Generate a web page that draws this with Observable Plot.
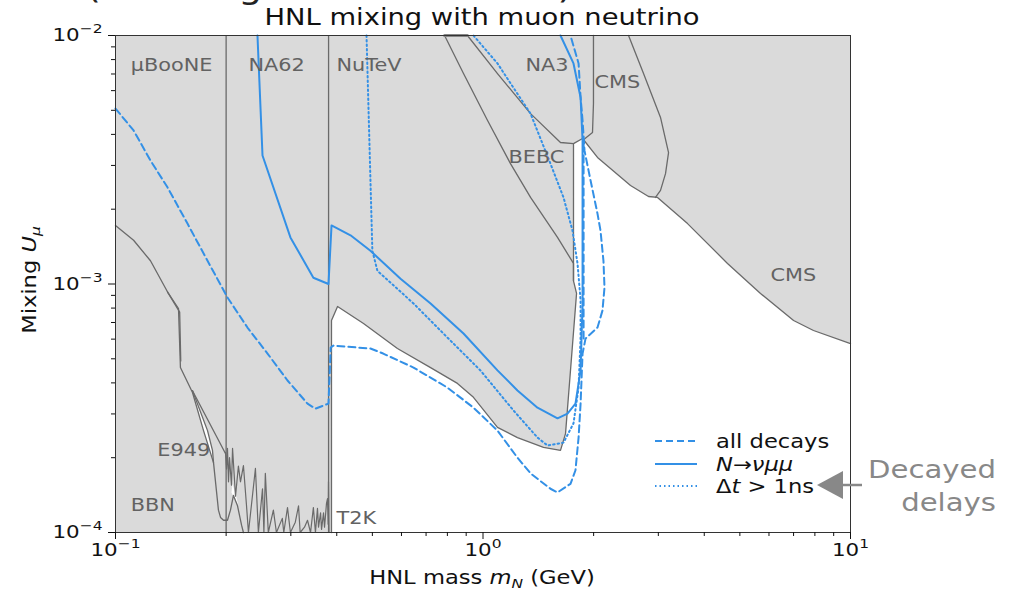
<!DOCTYPE html>
<html><head><meta charset="utf-8">
<script src="https://cdn.jsdelivr.net/npm/d3@7"></script>
<script src="https://cdn.jsdelivr.net/npm/@observablehq/plot@0.6"></script>
<style>
body{margin:0;background:#fff;}
#wrap{position:relative;width:1011px;height:594px;overflow:hidden;font-family:"DejaVu Sans",sans-serif;}
#chart{position:absolute;left:0;top:0;}
#overlay{position:absolute;left:0;top:0;pointer-events:none;font-family:"DejaVu Sans",sans-serif;}
</style></head><body>
<div id="wrap">
<div id="chart"></div>
<svg id="overlay" width="1011" height="594">
  <text x="86" y="-2" font-size="32" fill="#222">(Showing the HNL sector)</text>
  <text x="482" y="25" font-size="23" text-anchor="middle" fill="#111">HNL mixing with muon neutrino</text>
  <text transform="translate(36,280) rotate(-90)" text-anchor="middle" font-size="19" fill="#111">Mixing <tspan font-style="italic">U</tspan><tspan font-style="italic" font-size="13" dy="4">μ</tspan></text>
  <text x="482" y="584" text-anchor="middle" font-size="19" fill="#111">HNL mass <tspan font-style="italic">m</tspan><tspan font-style="italic" font-size="13" dy="4">N</tspan><tspan dy="-4"> (GeV)</tspan></text>
  <g id="legend">
    <line x1="655" x2="697" y1="441" y2="441" stroke="#3390e6" stroke-width="2" stroke-dasharray="7,4"/>
    <line x1="655" x2="697" y1="464" y2="464" stroke="#3390e6" stroke-width="2"/>
    <line x1="655" x2="697" y1="486" y2="486" stroke="#3390e6" stroke-width="2" stroke-dasharray="1.5,3"/>
    <text x="716" y="448" font-size="19" fill="#111">all decays</text>
    <text x="716" y="471" font-size="19" fill="#111"><tspan font-style="italic">N</tspan>→<tspan font-style="italic">νμμ</tspan></text>
    <text x="716" y="493" font-size="19" fill="#111">Δ<tspan font-style="italic">t</tspan> &gt; 1ns</text>
  </g>
  <line x1="840" y1="485" x2="862" y2="485" stroke="#888" stroke-width="2.5"/>
  <polygon points="817,485 843,471 843,499" fill="#888"/>
  <text x="996" y="478" text-anchor="end" font-size="24.5" fill="#888">Decayed</text>
  <text x="996" y="511" text-anchor="end" font-size="24.5" fill="#888">delays</text>
</svg>
</div>
<script>
// ---- data (mass in GeV, mixing U) ----
const xMajor = [0.1, 1, 10];
const xMinor = [0.2,0.3,0.4,0.5,0.6,0.7,0.8,0.9,2,3,4,5,6,7,8,9];
const yMajor = [1e-4, 1e-3, 1e-2];
const yMinor = [2e-4,3e-4,4e-4,5e-4,6e-4,7e-4,8e-4,9e-4,2e-3,3e-3,4e-3,5e-3,6e-3,7e-3,8e-3,9e-3];

const boundaryMasses = [0.2, 0.38];

const allowedEdge = [
  [0.387,1e-4],[0.387,7.13e-4],[0.402,8.12e-4],[0.473,6.93e-4],[0.585,5.50e-4],[0.72,4.61e-4],
  [0.852,3.98e-4],[0.942,3.5e-4],[1.095,2.65e-4],[1.241,2.41e-4],[1.461,2.20e-4],[1.625,2.14e-4],
  [1.677,2.50e-4],[1.797,9.16e-4],[1.763,1.03e-3],[1.763,3.67e-3],[1.866,3.85e-3],[2.049,3.23e-3],
  [2.52,2.49e-3],[2.821,2.25e-3],[2.984,2.23e-3],[3.602,1.75e-3],[4.627,1.21e-3],[5.69,9.16e-4],
  [7.0,7.13e-4],[7.93,6.50e-4],[10,5.76e-4]
];
const allowedCorner = [[10,1e-4]];

const bebc = [[0.786,1e-2],[0.885,7.03e-3],[1.029,4.55e-3],[1.188,3.05e-3],[1.347,2.23e-3],[1.595,1.54e-3],[1.763,1.21e-3],[1.763,1.03e-3]];
const na3 = [[0.907,1e-2],[1.095,7.03e-3],[1.347,4.85e-3],[1.625,3.71e-3],[1.763,3.67e-3]];
const na3Top = [[0.786,1e-2],[0.907,1e-2]];
const cmsSide = [[1.998,1e-2],[1.998,5.33e-3],[1.986,4.07e-3],[1.866,3.78e-3]];
const cmsUpper = [[2.489,1e-2],[2.734,7.03e-3],[3.041,4.68e-3],[3.198,3.38e-3],[3.138,2.78e-3],[3.041,2.38e-3],[2.947,2.23e-3]];

const bbn = [[0.1,1.72e-3],[0.112,1.50e-3],[0.1245,1.24e-3],[0.1393,9.16e-4],[0.1484,7.97e-4],[0.1502,4.61e-4],
  [0.162,3.66e-4],[0.1736,2.57e-4],[0.1848,1.91e-4],[0.1906,1.23e-4],[0.1931,1.15e-4],[0.1968,1.12e-4],
  [0.2017,1.12e-4],[0.2055,1.23e-4],[0.2094,1.41e-4],[0.2148,1.28e-4],[0.2203,1.07e-4],[0.2229,1e-4]];
const bbnInner = [[0.1385,9.3e-4],[0.1495,7.7e-4],[0.1505,4.9e-4]];
const e949 = [[0.162,3.72e-4],[0.1992,2.08e-4]];
const e949Inner = [[0.162,3.72e-4],[0.178,2.57e-4],[0.1836,2.14e-4],[0.1848,1.91e-4]];
const gapA = [[0.162,3.72e-4],[0.178,2.57e-4],[0.1836,2.14e-4],[0.1848,1.91e-4],[0.1736,2.57e-4]];
const gapB = [[0.2082,1.57e-4],[0.2134,1.38e-4],[0.2203,1.14e-4],[0.2160,1.28e-4],[0.2068,1.45e-4]];
const t2kNoise = [[0.1992,2.1e-4],[0.2005,1.8e-4],[0.2017,2.18e-4],[0.2030,1.6e-4],[0.2043,2.0e-4],[0.2068,1.55e-4],
  [0.2082,2.18e-4],[0.2121,1.4e-4],[0.2160,1.85e-4],[0.2188,1.6e-4],[0.2229,1.86e-4],[0.2271,1.3e-4],[0.2300,1.0e-4],
  [0.2403,1.81e-4],[0.2448,1.0e-4],[0.2512,1.5e-4],[0.2534,1e-4],[0.2557,1.73e-4],[0.2605,1.0e-4],[0.2689,1.23e-4],
  [0.2741,1.0e-4],[0.2844,1.14e-4],[0.2870,1.0e-4],[0.2938,1.26e-4],[0.2992,1.0e-4],[0.3085,1.1e-4],[0.3148,1.28e-4],
  [0.3180,1.0e-4],[0.3268,1.05e-4],[0.3330,1.12e-4],[0.3394,1.0e-4],[0.3455,1.26e-4],[0.3500,1.0e-4],[0.3545,1.25e-4],
  [0.3568,1.05e-4],[0.3614,1.2e-4],[0.3636,1.03e-4],[0.3682,1.2e-4],[0.3705,1.05e-4],[0.3751,1.31e-4],[0.3775,1.37e-4],
  [0.3790,1.08e-4],[0.3798,1.6e-4],[0.381,1.0e-4]];

const allDecays = [[0.1,5.08e-3],[0.112,4.15e-3],[0.1245,3.14e-3],[0.1385,2.45e-3],[0.157,1.75e-3],[0.178,1.24e-3],
  [0.2017,8.83e-4],[0.2286,6.68e-4],[0.2592,5.25e-4],[0.2938,4.09e-4],[0.333,3.30e-4],[0.3498,3.15e-4],[0.3798,3.30e-4],
  [0.385,5.55e-4],[0.392,5.65e-4],[0.494,5.50e-4],[0.535,5.25e-4],[0.647,4.61e-4],[0.80,3.83e-4],[0.942,3.18e-4],
  [1.095,2.57e-4],[1.241,2.00e-4],[1.347,1.73e-4],[1.526,1.50e-4],[1.595,1.45e-4],[1.730,1.57e-4],[1.785,1.78e-4],
  [1.820,2.41e-4],[1.843,3.30e-4],[1.866,5.25e-4],[1.901,6.03e-4],[2.049,6.68e-4],[2.114,7.82e-4],[2.141,9.68e-4],
  [2.127,1.24e-3],[2.088,1.64e-3],[2.049,1.92e-3],[1.962,2.61e-3],[1.889,3.44e-3],[1.866,4.55e-3],[1.843,5.63e-3],
  [1.820,7.72e-3],[1.730,1e-2]];
const allDecaysInner = [[1.878,6.03e-4],[1.878,3.78e-3]];
const nuMuMu = [[0.2434,1e-2],[0.2512,3.29e-3],[0.2992,1.54e-3],[0.3455,1.06e-3],[0.3798,1.0e-3],[0.3871,1.72e-3],
  [0.436,1.57e-3],[0.494,1.36e-3],[0.5965,1.05e-3],[0.72,8.35e-4],[0.885,6.32e-4],[1.095,4.49e-4],[1.241,3.73e-4],
  [1.407,3.18e-4],[1.595,2.88e-4],[1.698,3.01e-4],[1.785,3.30e-4],[1.843,4.49e-4],[1.866,8.35e-4],[1.866,3.78e-3],
  [1.843,5.63e-3],[1.763,7.72e-3],[1.625,1e-2]];
const delayed = [[0.482,1e-2],[0.5,1.36e-3],[0.516,1.13e-3],[0.647,8.35e-4],[0.80,6.09e-4],[0.984,4.49e-4],
  [1.21,3.10e-4],[1.407,2.41e-4],[1.498,2.24e-4],[1.656,2.30e-4],[1.763,2.75e-4],[1.820,3.83e-4],[1.843,6.09e-4],
  [1.843,8.6e-4],[1.808,1.21e-3],[1.752,1.64e-3],[1.656,2.23e-3],[1.526,3.05e-3],[1.347,4.85e-3],[1.095,7.72e-3],[0.942,1e-2]];

const labelNames = ["μBooNE","NA62","NuTeV","NA3","CMS","BEBC","CMS","E949","BBN","T2K"];
const labelMass  = [0.11, 0.23, 0.3995, 1.305, 2.011, 1.173, 6.06, 0.130, 0.11, 0.3995];
const labelMix   = [7.57e-3, 7.57e-3, 7.57e-3, 7.57e-3, 6.47e-3, 3.23e-3, 1.08e-3, 2.14e-4, 1.28e-4, 1.14e-4];

// ---- styles ----
const GREY = "#dadada", EDGE = "#6a6a6a", BLUE = "#3390e6", LABEL = "#626262";
const X = d => d[0], Y = d => d[1];
const labels = labelNames.map((t, i) => ({t, m: labelMass[i], u: labelMix[i]}));
const sup = d => "10^" + String(Math.round(Math.log10(d))).replace("-", "−");
const edge = (data, extra = {}) => Plot.line(data, {x: X, y: Y, stroke: EDGE, strokeWidth: 1.3, ...extra});

const chart = Plot.plot({
  width: 1011, height: 594,
  marginLeft: 115, marginRight: 161, marginTop: 35, marginBottom: 62,
  x: {type: "log", domain: [0.1, 10]},
  y: {type: "log", domain: [1e-4, 1e-2]},
  style: {fontFamily: "DejaVu Sans", fontSize: "18px", color: "#111", background: "transparent", overflow: "visible"},
  marks: [
    Plot.frame({fill: GREY, stroke: null}),
    Plot.line([...allowedEdge, ...allowedCorner], {x: X, y: Y, fill: "white", stroke: "none"}),
    Plot.line(gapA, {x: X, y: Y, fill: "white", stroke: "none"}),
    Plot.line(gapB, {x: X, y: Y, fill: "white", stroke: "none"}),
    Plot.ruleX(boundaryMasses, {stroke: EDGE, strokeWidth: 1.3}),
    edge(allowedEdge),
    edge(bebc), edge(na3), edge(cmsSide), edge(cmsUpper),
    edge(na3Top, {strokeWidth: 3, stroke: "#888"}),
    edge(bbn), edge(bbnInner), edge(e949), edge(e949Inner),
    edge(t2kNoise, {strokeWidth: 1.2}),
    Plot.line(allDecays, {x: X, y: Y, stroke: BLUE, strokeWidth: 2, strokeDasharray: "7,4"}),
    Plot.line(allDecaysInner, {x: X, y: Y, stroke: BLUE, strokeWidth: 2, strokeDasharray: "7,4"}),
    Plot.line(nuMuMu, {x: X, y: Y, stroke: BLUE, strokeWidth: 2}),
    Plot.line(delayed, {x: X, y: Y, stroke: BLUE, strokeWidth: 2, strokeDasharray: "1.5,3"}),
    Plot.text(labels, {x: "m", y: "u", text: "t", textAnchor: "start", fill: LABEL, fontSize: 17.5}),
    Plot.frame({stroke: "#333", strokeWidth: 1}),
    Plot.axisX({ticks: xMajor, tickFormat: sup, tickSize: 7, tickPadding: 4, fontSize: 18, label: null}),
    Plot.axisX({ticks: xMinor, tickFormat: () => "", tickSize: 4, label: null}),
    Plot.axisY({ticks: yMajor, tickFormat: sup, tickSize: 7, tickPadding: 6, fontSize: 18, label: null}),
    Plot.axisY({ticks: yMinor, tickFormat: () => "", tickSize: 4, label: null})
  ]
});
document.getElementById("chart").appendChild(chart);

// superscript exponents on tick labels
chart.querySelectorAll("text").forEach(t => {
  const m = /^10\^(.+)$/.exec(t.textContent);
  if (!m) return;
  t.textContent = "";
  const a = document.createElementNS("http://www.w3.org/2000/svg", "tspan");
  a.textContent = "10";
  const b = document.createElementNS("http://www.w3.org/2000/svg", "tspan");
  b.textContent = m[1];
  b.setAttribute("font-size", "13");
  b.setAttribute("dy", "-8");
  t.appendChild(a); t.appendChild(b);
});

// the reference figure is horizontally stretched; widen glyphs accordingly
function stretch(root, k) {
  root.querySelectorAll("text").forEach(t => {
    const x = parseFloat(t.getAttribute("x")) || 0, y = parseFloat(t.getAttribute("y")) || 0;
    const tr = t.getAttribute("transform") || "";
    t.setAttribute("transform", `${tr} translate(${x},${y}) scale(${k},1) translate(${-x},${-y})`);
  });
}
stretch(chart, 1.19);
stretch(document.getElementById("overlay"), 1.19);
</script>
</body></html>
